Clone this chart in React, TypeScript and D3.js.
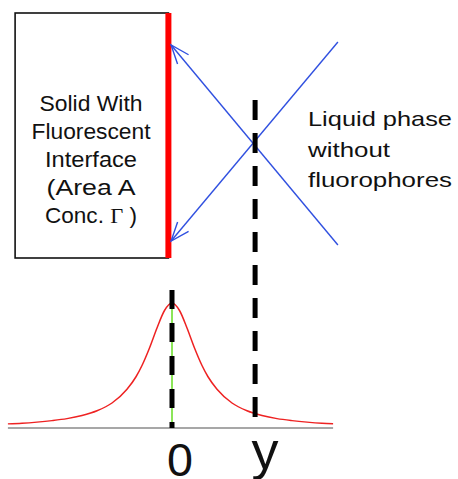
import React from "react";
import * as d3 from "d3";

// Profile of fluorescence intensity vs. distance (units of half-width)
const profileX = [-5.47, -5, -4.5, -4, -3.5, -3, -2.5, -2, -1.5, -1.2, -1, -0.75, -0.5, -0.25, 0, 0.25, 0.5, 0.75, 1, 1.2, 1.5, 2, 2.5, 3, 3.5, 4, 4.5, 5, 5.37];
const profileI = [0.033, 0.038, 0.047, 0.059, 0.075, 0.1, 0.138, 0.2, 0.31, 0.41, 0.5, 0.64, 0.8, 0.94, 1.0, 0.94, 0.8, 0.64, 0.5, 0.41, 0.31, 0.2, 0.138, 0.1, 0.075, 0.059, 0.047, 0.038, 0.034];

// Scene geometry (same units: x in half-widths, y in intensity units)
const axisRange = [-5.47, 5.37];
const boxX = [-5.23, -0.12];
const boxY = [1.36, 3.32];
const interfaceX = -0.12;
const rayStartX = [5.53, 5.53];
const rayStartY = [3.088, 1.464];
const rayEndX = [-0.03, -0.03];
const rayEndY = [1.496, 3.064];
const zeroLine = { x: 0, y0: 0, y1: 1.104 };
const yLine = { x: 2.77, y0: 0.032, y1: 2.624 };
const tickLabels = ["0", "y"];
const boxLines = ["Solid With", "Fluorescent", "Interface", "(Area A"];
const liquidLines = ["Liquid phase", "without", "fluorophores"];

export default function App() {
  const W = 458, H = 479;
  const x = d3.scaleLinear().domain([-5.5, 5.5]).range([7, 337]);
  const y = d3.scaleLinear().domain([0, 1]).range([428, 303]);
  const pts: [number, number][] = profileX.map((v, i) => [v, profileI[i]]);
  const line = d3.line<[number, number]>().x(d => x(d[0])).y(d => y(d[1])).curve(d3.curveMonotoneX);

  const arrow = (i: number) => {
    const x0 = x(rayStartX[i]), y0 = y(rayStartY[i]);
    const x1 = x(rayEndX[i]), y1 = y(rayEndY[i]);
    const ang = Math.atan2(y0 - y1, x0 - x1);
    const L = 20, a = (21 * Math.PI) / 180;
    const p1 = [x1 + L * Math.cos(ang - a), y1 + L * Math.sin(ang - a)];
    const p2 = [x1 + L * Math.cos(ang + a), y1 + L * Math.sin(ang + a)];
    return (
      <g key={i} stroke="#3050e0" strokeWidth={1.4} fill="none">
        <line x1={x0} y1={y0} x2={x1} y2={y1} />
        <polyline points={`${p1[0]},${p1[1]} ${x1},${y1} ${p2[0]},${p2[1]}`} />
      </g>
    );
  };

  const boxWidths = [103, 119, 92, 89];
  const boxCx = 91;
  const font = "'Liberation Sans', Arial, sans-serif";

  return (
    <svg width={W} height={H} style={{ position: "absolute", left: 0, top: 0 }} fontFamily={font}>
      <rect x={0} y={0} width={W} height={H} fill="#fff" />
      {/* solid box */}
      <rect x={x(boxX[0])} y={y(boxY[1])} width={x(boxX[1]) - x(boxX[0])} height={y(boxY[0]) - y(boxY[1])} fill="#fff" stroke="#111" strokeWidth={1.6} />
      {/* fluorescent interface */}
      <line x1={x(interfaceX)} x2={x(interfaceX)} y1={y(boxY[1])} y2={y(boxY[0])} stroke="#ff0000" strokeWidth={6} />
      {/* rays */}
      {[0, 1].map(arrow)}
      {/* baseline */}
      <line x1={x(axisRange[0])} x2={x(axisRange[1])} y1={y(0)} y2={y(0)} stroke="#8a8a8a" strokeWidth={1.5} />
      {/* profile */}
      <path d={line(pts) || ""} fill="none" stroke="#ee2222" strokeWidth={1.5} />
      {/* green center line */}
      <line x1={x(0)} x2={x(0)} y1={y(1)} y2={y(0)} stroke="#66dd22" strokeWidth={1.5} />
      {/* dashed lines */}
      <line x1={x(zeroLine.x)} x2={x(zeroLine.x)} y1={y(zeroLine.y1)} y2={y(zeroLine.y0)} stroke="#000" strokeWidth={5} strokeDasharray="19 14" />
      <line x1={x(yLine.x)} x2={x(yLine.x)} y1={y(yLine.y1)} y2={y(yLine.y0)} stroke="#000" strokeWidth={5} strokeDasharray="20 13" />
      {/* box text */}
      {boxLines.map((t, i) => (
        <text key={t} x={boxCx} y={111 + i * 28} textAnchor="middle" fontSize={22} fill="#111" textLength={boxWidths[i]} lengthAdjust="spacingAndGlyphs">{t}</text>
      ))}
      <text x={boxCx} y={223} textAnchor="middle" fontSize={22} fill="#111" textLength={92} lengthAdjust="spacingAndGlyphs">
        Conc. <tspan fontFamily="'Liberation Serif', 'Times New Roman', serif">Γ</tspan> )
      </text>
      {/* liquid text */}
      {liquidLines.map((t, i) => (
        <text key={t} x={308} y={126 + i * 30.5} fontSize={21} fill="#111" textLength={[144, 82, 144][i]} lengthAdjust="spacingAndGlyphs">{t}</text>
      ))}
      {/* tick labels */}
      <text x={x(0) + 8} y={476} textAnchor="middle" fontSize={46} fill="#111" textLength={26} lengthAdjust="spacingAndGlyphs">{tickLabels[0]}</text>
      <text x={x(yLine.x) + 10} y={469} textAnchor="middle" fontSize={54} fill="#111" textLength={27} lengthAdjust="spacingAndGlyphs">{tickLabels[1]}</text>
    </svg>
  );
}
